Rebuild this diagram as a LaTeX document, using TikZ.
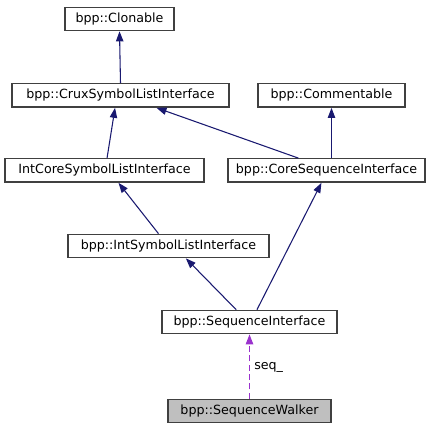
\documentclass[tikz,border=0pt]{standalone}
\usepackage{fontspec}
\setmainfont{DejaVu Sans}
\usetikzlibrary{arrows.meta}
\definecolor{edgeblue}{HTML}{191970}
\definecolor{usecol}{HTML}{9A32CD}
\definecolor{boxline}{HTML}{404040}
\tikzset{
	cls/.style={draw=boxline, line width=1pt, fill=white, inner sep=0pt, minimum height=17.5pt, font=\fontsize{9.5}{11}\selectfont},
	inh/.style={edgeblue, line width=0.8pt, -{Triangle[length=7.5pt,width=5.5pt]}},
	usage/.style={usecol, line width=1.1pt, dash pattern=on 4.5pt off 2.5pt, -{Triangle[length=7.5pt,width=5.5pt]}}
}
\begin{document}
\begin{tikzpicture}[x=0.75pt, y=-0.75pt]
	\useasboundingbox (0,0) rectangle (439,431);
	% Classes:
	\node[cls, minimum width=81.75pt](clon) at (119.5, 19){bpp::Clonable};
	\node[cls, minimum width=162.75pt](crux) at (120.5, 95.5){bpp::CruxSymbolListInterface};
	\node[cls, minimum width=110.25pt](comm) at (331.5, 95.5){bpp::Commentable};
	\node[cls, minimum width=149.25pt](intcore) at (104.5, 170.5){IntCoreSymbolListInterface};
	\node[cls, minimum width=147.75pt](coreseq) at (326.5, 170.5){bpp::CoreSequenceInterface};
	\node[cls, minimum width=150.75pt](intsym) at (168.5, 246){bpp::IntSymbolListInterface};
	\node[cls, minimum width=131.25pt](seqif) at (249.5, 322){bpp::SequenceInterface};
	\node[cls, minimum width=122.25pt, fill=black!25](walker) at (249.5, 411){bpp::SequenceWalker};
	% Inheritance:
	\draw[inh] (crux.north) -- (clon.south);
	\draw[inh] ([xshift=1.9pt]intcore.north) -- ([xshift=-4.1pt]crux.south);
	\draw[inh] ([xshift=-21pt]coreseq.north) -- ([xshift=27pt]crux.south);
	\draw[inh] (coreseq.north -| comm.south) -- (comm.south);
	\draw[inh] ([xshift=-7.5pt]intsym.north) -- ([xshift=10.5pt]intcore.south);
	\draw[inh] ([xshift=-10pt]seqif.north) -- ([xshift=13pt]intsym.south);
	\draw[inh] ([xshift=5.6pt]seqif.north) -- ([xshift=-3.8pt]coreseq.south);
	% Usage:
	\draw[usage] (walker.north) -- (seqif.south);
	\node[anchor=west, inner sep=0pt, font=\fontsize{9.5}{11}\selectfont](seqlbl) at (254, 367){seq\_};
\end{tikzpicture}
\end{document}
